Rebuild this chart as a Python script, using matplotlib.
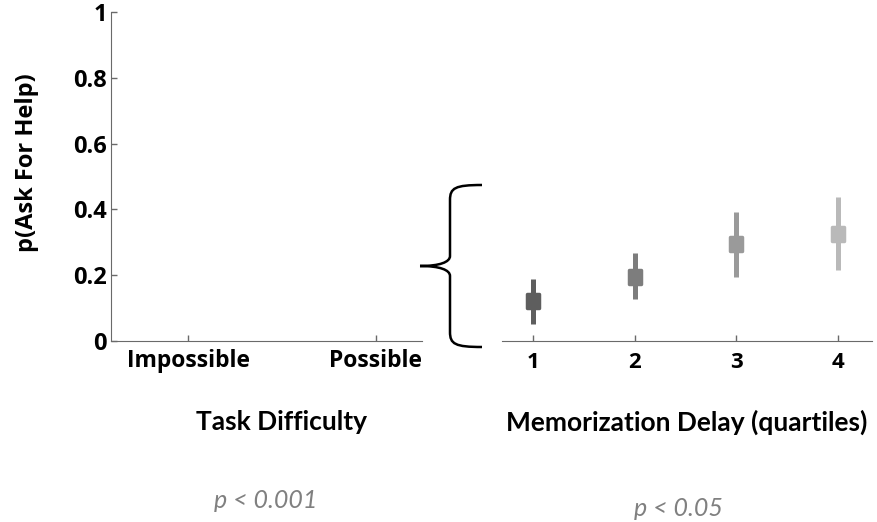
import numpy as np
import matplotlib
matplotlib.use('Agg')
import matplotlib.pyplot as plt
from matplotlib.path import Path
from matplotlib.patches import PathPatch
from matplotlib.markers import MarkerStyle

# data
DIFFICULTY = ['Impossible', 'Possible']
QUARTILES = ['1', '2', '3', '4']
P_HELP = [0.122, 0.195, 0.295, 0.324]
CI_LOW = [0.052, 0.127, 0.195, 0.215]
CI_HIGH = [0.188, 0.267, 0.393, 0.439]
COLORS = ['#5e5e5e', '#7d7d7d', '#9a9a9a', '#b9b9b9']
YTICKS = [0, 0.2, 0.4, 0.6, 0.8, 1]
YTICKLABELS = ['0', '0.2', '0.4', '0.6', '0.8', '1']

TICKFONT = ['Open Sans', 'DejaVu Sans']
LABELFONT = ['Lato', 'DejaVu Sans']
plt.rcParams['font.family'] = TICKFONT
AXC = '#6a6a6a'

fig = plt.figure(figsize=(8.77, 5.22), dpi=100)

# left panel
ax1 = fig.add_axes([0.1266, 0.3467, 0.3546, 0.6303])
ax1.set_xlim(0.59, 2.245)
ax1.set_ylim(0, 1)
ax1.set_xticks([1, 2])
ax1.set_xticklabels(DIFFICULTY, fontsize=16.5, fontweight='bold')
ax1.set_yticks(YTICKS)
ax1.set_yticklabels(YTICKLABELS, fontsize=17, fontweight='bold')
for s in ['top', 'right']:
    ax1.spines[s].set_visible(False)
for s in ['left', 'bottom']:
    ax1.spines[s].set_color(AXC)
ax1.tick_params(direction='in', color=AXC, length=4, width=1)
ax1.tick_params(axis='x', pad=6)
ax1.tick_params(axis='y', pad=3)

# right panel
ax2 = fig.add_axes([0.5724, 0.3467, 0.4219, 0.6303])
ax2.set_xlim(0.695, 4.334)
ax2.set_ylim(0, 1)
x = np.arange(1, len(QUARTILES) + 1)
box = MarkerStyle(Path([(-0.8, -1), (0.8, -1), (0.8, 1), (-0.8, 1), (-0.8, -1)], closed=True),
                  joinstyle='round')
for i in range(len(QUARTILES)):
    ax2.plot([x[i], x[i]], [CI_LOW[i], CI_HIGH[i]], color=COLORS[i],
             linewidth=3.6, solid_capstyle='butt')
    ax2.plot(x[i], P_HELP[i], marker=box, markersize=10, color=COLORS[i],
             markeredgewidth=2.5, markeredgecolor=COLORS[i])
ax2.set_xticks(x)
ax2.set_xticklabels(QUARTILES, fontsize=16, fontweight='bold')
ax2.set_yticks([])
for s in ['top', 'right', 'left']:
    ax2.spines[s].set_visible(False)
ax2.spines['bottom'].set_color(AXC)
ax2.tick_params(direction='in', color=AXC, length=4, width=1, pad=8)

# curly brace (figure pixels)
H = 522
def fy(py):
    return H - py
verts = [
    (482, fy(185)), (455, fy(185)), (450, fy(188)), (450, fy(200)),
    (450, fy(200)), (450, fy(250)), (450, fy(256)),
    (450, fy(262)), (440, fy(266)), (420, fy(266)),
    (440, fy(266)), (450, fy(270)), (450, fy(276)),
    (450, fy(282)), (450, fy(332)), (450, fy(332)),
    (450, fy(344)), (455, fy(347)), (482, fy(347)),
]
codes = [Path.MOVETO] + [Path.CURVE4] * 18
brace = PathPatch(Path(verts, codes), transform=None, fill=False,
                  edgecolor='black', linewidth=1.8)
fig.patches.append(brace)

# labels
fig.text(27 / 877, 1 - 163 / 522, 'p(Ask For Help)', fontsize=17, fontweight='bold',
         rotation=90, ha='center', va='center', family=TICKFONT)
fig.text(282 / 877, 1 - 422 / 522, 'Task Difficulty', fontsize=19, fontweight='bold',
         ha='center', va='center', family=LABELFONT)
fig.text(687 / 877, 1 - 422 / 522, 'Memorization Delay (quartiles)', fontsize=19,
         fontweight='bold', ha='center', va='center', family=LABELFONT)
fig.text(266 / 877, 1 - 500 / 522, 'p < 0.001', fontsize=18, style='italic',
         color='#808080', ha='center', va='center', family=LABELFONT)
fig.text(678 / 877, 1 - 509 / 522, 'p < 0.05', fontsize=18, style='italic',
         color='#808080', ha='center', va='center', family=LABELFONT)

fig.savefig('out.png', dpi=100)
